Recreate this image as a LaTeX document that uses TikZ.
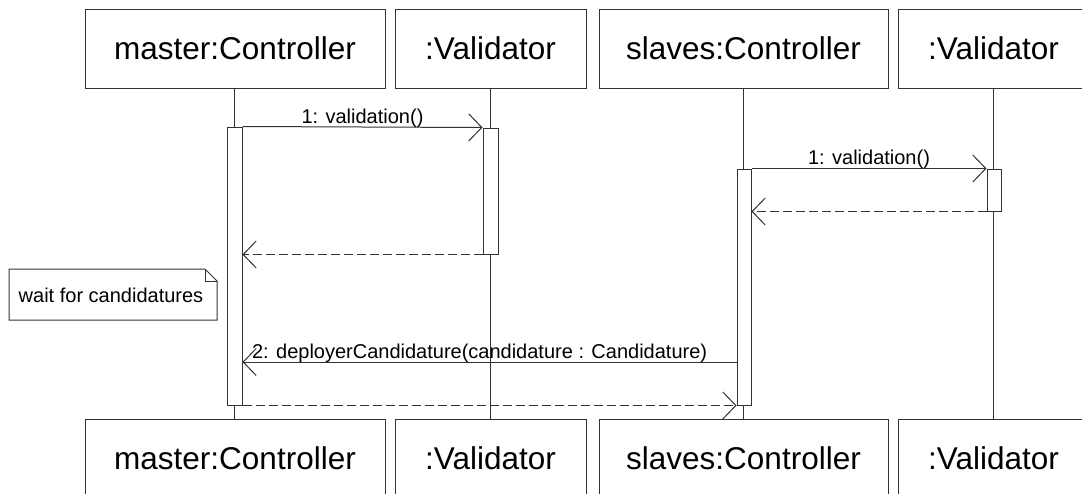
\documentclass[tikz,border=0pt]{standalone}
\usepackage{fontspec}
\setmainfont{Liberation Sans}
\usetikzlibrary{arrows.meta,calc}
\definecolor{ln}{HTML}{333333}
\tikzset{
  objbox/.style={draw=ln,line width=1pt,fill=white,minimum height=79pt,inner sep=0pt,font=\fontsize{31.5}{36}\selectfont},
  actbox/.style={draw=ln,line width=1pt,fill=white,inner sep=0pt,minimum width=15pt},
  life/.style={draw=ln,line width=1pt},
  msg/.style={draw=ln,line width=1pt,-{Straight Barb[length=13pt,width=27pt,line width=1pt]}},
  ret/.style={msg,dash pattern=on 9pt off 4pt},
  lbl/.style={font=\fontsize{20}{23}\selectfont,inner sep=0pt,anchor=base},
}
\begin{document}
\begin{tikzpicture}[x=1pt,y=-1pt]
\useasboundingbox (0,0) rectangle (1082,493);
\clip (0,0) rectangle (1082,493);
% top objects
\node[objbox,minimum width=300pt] (t1) at (235,48.5) {master:Controller};
\node[objbox,minimum width=191pt] (t2) at (490.5,48.5) {:Validator};
\node[objbox,minimum width=289pt] (t3) at (743.5,48.5) {slaves:Controller};
\node[objbox,minimum width=190pt] (t4) at (993.5,48.5) {:Validator};
% bottom objects
\node[objbox,minimum width=300pt] (b1) at (235,458.5) {master:Controller};
\node[objbox,minimum width=191pt] (b2) at (490.5,458.5) {:Validator};
\node[objbox,minimum width=289pt] (b3) at (743.5,458.5) {slaves:Controller};
\node[objbox,minimum width=190pt] (b4) at (993.5,458.5) {:Validator};
% lifelines
\draw[life] (t1.south -| 234,0) -- (b1.north -| 234,0);
\draw[life] (t2.south -| 490.5,0) -- (b2.north -| 490.5,0);
\draw[life] (t3.south -| 743,0) -- (b3.north -| 743,0);
\draw[life] (t4.south -| 993.5,0) -- (b4.north -| 993.5,0);
% activations
\node[actbox,minimum height=278pt] (aM) at (234.5,266) {};
\node[actbox,minimum height=126pt] (aV1) at (490.5,191) {};
\node[actbox,minimum width=14pt,minimum height=236pt] (aS) at (744,287) {};
\node[actbox,minimum width=14pt,minimum height=42pt] (aV2) at (994,190) {};
% messages
\draw[msg] (aM.north east) -- (aV1.north west)
  node[lbl,pos=0.5,yshift=4pt] {1: validation()};
\draw[ret] (aV1.south west) -- (aM.east |- aV1.south);
\draw[msg] (aS.north east) -- (aV2.north west)
  node[lbl,pos=0.5,yshift=4pt] {1: validation()};
\draw[ret] (aV2.south west) -- (aS.east |- aV2.south);
\coordinate (m2s) at ($(aS.west)+(0,75)$);
\draw[msg] (m2s) -- (aM.east |- m2s)
  node[lbl,pos=0.52,yshift=4pt] {2: deployerCandidature(candidature : Candidature)};
\draw[ret] (aM.south east) -- (aS.south west);
% note
\coordinate (n1) at (9,269);
\coordinate (n2) at (205,269);
\coordinate (n3) at (217,281);
\coordinate (n4) at (217,320);
\coordinate (n5) at (9,320);
\draw[draw=ln,line width=1pt,fill=white] (n1) -- (n2) -- (n3) -- (n4) -- (n5) -- cycle;
\draw[draw=ln,line width=1pt] (n2) -- (205,281) -- (n3);
\node[font=\fontsize{20}{23}\selectfont,inner sep=0pt] (note) at (111,295) {wait for candidatures};
\end{tikzpicture}
\end{document}
